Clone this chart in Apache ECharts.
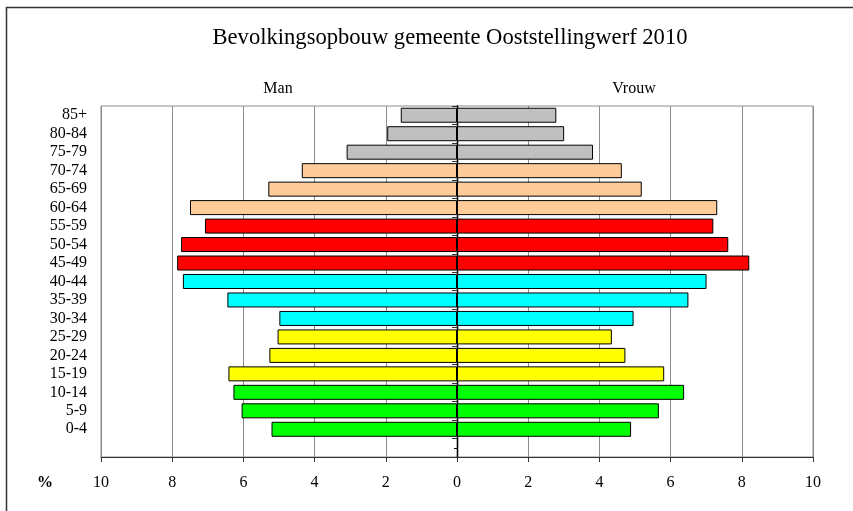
<!DOCTYPE html>
<html>
<head>
<meta charset="utf-8">
<script src="https://cdn.jsdelivr.net/npm/echarts@6/dist/echarts.min.js"></script>
<style>
  html, body { margin: 0; padding: 0; background: #fff; }
  #chart { width: 853px; height: 511px; }
</style>
</head>
<body>
<div id="chart"></div>
<script>
// Age groups from youngest (bottom) to oldest (top)
var ageGroups = ['0-4', '5-9', '10-14', '15-19', '20-24', '25-29', '30-34', '35-39', '40-44',
                 '45-49', '50-54', '55-59', '60-64', '65-69', '70-74', '75-79', '80-84', '85+'];
// Percentage of population, men (drawn to the left)
var manValues = [5.21, 6.05, 6.28, 6.42, 5.27, 5.04, 4.99, 6.45, 7.70,
                 7.86, 7.75, 7.08, 7.50, 5.30, 4.36, 3.10, 1.96, 1.58];
// Percentage of population, women (drawn to the right)
var vrouwValues = [4.89, 5.67, 6.38, 5.82, 4.73, 4.35, 4.96, 6.50, 7.01,
                   8.21, 7.62, 7.20, 7.31, 5.19, 4.63, 3.82, 3.01, 2.79];
// X axis ticks
var xTicks = [-10, -8, -6, -4, -2, 0, 2, 4, 6, 8, 10];

var title = 'Bevolkingsopbouw gemeente Ooststellingwerf 2010';
var manLabel = 'Man';
var vrouwLabel = 'Vrouw';
var unitLabel = '%';

// Colour per group of three age classes (bottom to top)
var groupColors = ['#00FF00', '#FFFF00', '#00FFFF', '#FF0000', '#FFCC99', '#C0C0C0'];

var FONT = '"Liberation Serif", "Times New Roman", serif';
var axisCats = [''].concat(ageGroups);   // one empty slot below 0-4

function barData(values, sign) {
  var out = [null];
  values.forEach(function (v, i) {
    out.push({
      value: sign * v,
      itemStyle: { color: groupColors[Math.floor(i / 3)] }
    });
  });
  return out;
}

var xMin = xTicks[0], xMax = xTicks[xTicks.length - 1];

var chart = echarts.init(document.getElementById('chart'), null, { renderer: 'canvas' });
chart.setOption({
  animation: false,
  backgroundColor: '#ffffff',
  grid: {
    left: 101, right: 40, top: 106, bottom: 54,
    show: true, borderColor: '#8c8c8c', borderWidth: 1, backgroundColor: 'transparent'
  },
  xAxis: [
    {
      type: 'value', position: 'bottom',
      min: xMin, max: xMax, interval: 2,
      axisLine: { show: true, onZero: false, lineStyle: { color: '#333', width: 1.2 } },
      axisTick: { show: true, length: 5, lineStyle: { color: '#333' } },
      axisLabel: {
        fontFamily: FONT, fontSize: 16, color: '#000', margin: 18,
        formatter: function (v) { return String(Math.abs(v)); }
      },
      splitLine: { show: true, lineStyle: { color: '#8c8c8c', width: 1 } }
    },
    {
      type: 'value', position: 'top',
      min: xMin, max: xMax, interval: 2,
      axisLine: { show: false, onZero: false },
      axisTick: { show: false },
      axisLabel: { show: false },
      splitLine: { show: false }
    }
  ],
  yAxis: [
    {
      type: 'category', data: axisCats, position: 'left',
      axisLine: { show: false, onZero: false },
      axisTick: { show: false },
      axisLabel: { fontFamily: FONT, fontSize: 16, color: '#000', margin: 14, interval: 0 },
      splitLine: { show: false }
    },
    {
      type: 'category', data: axisCats, position: 'left',
      axisLine: { show: true, onZero: true, onZeroAxisIndex: 0, lineStyle: { color: '#000', width: 1.3 } },
      axisTick: { show: true, length: 5, inside: false, lineStyle: { color: '#333' } },
      axisLabel: { show: false },
      splitLine: { show: false }
    },
    {
      type: 'category', data: axisCats, position: 'right',
      axisLine: { show: true, onZero: true, onZeroAxisIndex: 1, lineStyle: { color: '#000', width: 1.3 } },
      axisTick: { show: true, alignWithLabel: true, inside: true, length: 3, lineStyle: { color: '#000' } },
      axisLabel: { show: false },
      splitLine: { show: false }
    }
  ],
  series: [
    {
      name: manLabel, type: 'bar', xAxisIndex: 0, yAxisIndex: 0,
      data: barData(manValues, -1),
      barWidth: 15, barGap: '-100%',
      itemStyle: { borderColor: '#000', borderWidth: 1 }
    },
    {
      name: vrouwLabel, type: 'bar', xAxisIndex: 0, yAxisIndex: 0,
      data: barData(vrouwValues, 1),
      barWidth: 15, barGap: '-100%',
      itemStyle: { borderColor: '#000', borderWidth: 1 }
    }
  ],
  graphic: [
    {
      type: 'polyline', silent: true,
      shape: { points: [[6.5, 520], [6.5, 7.5], [870, 7.5]] },
      style: { stroke: '#333', lineWidth: 1.5, fill: null }
    },
    {
      type: 'text', x: 450, y: 38,
      style: { text: title, font: '22.6px ' + FONT, fill: '#000', textAlign: 'center', textVerticalAlign: 'middle' }
    },
    {
      type: 'text', x: 278, y: 89,
      style: { text: manLabel, font: '16px ' + FONT, fill: '#000', textAlign: 'center', textVerticalAlign: 'middle' }
    },
    {
      type: 'text', x: 634, y: 89,
      style: { text: vrouwLabel, font: '16px ' + FONT, fill: '#000', textAlign: 'center', textVerticalAlign: 'middle' }
    },
    {
      type: 'text', x: 45, y: 483,
      style: { text: unitLabel, font: 'bold 16px ' + FONT, fill: '#000', textAlign: 'center', textVerticalAlign: 'middle' }
    }
  ]
});
</script>
</body>
</html>
